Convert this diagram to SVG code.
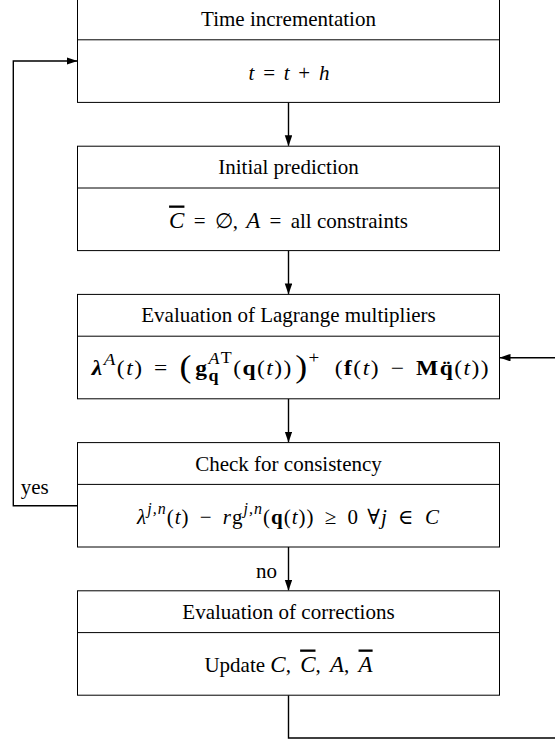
<svg xmlns="http://www.w3.org/2000/svg" width="555" height="742" viewBox="0 0 555 742">
<style>
.box{fill:#fff;stroke:#000;stroke-width:1}
.div{stroke:#000;stroke-width:1}
.t{font-family:"Liberation Serif","DejaVu Serif",serif;font-size:21px;fill:#000;text-anchor:middle}
.l{font-family:"Liberation Serif","DejaVu Serif",serif;font-size:21px;fill:#000}
.i{font-style:italic}
.b{font-weight:bold}
.bi{font-weight:bold;font-style:italic}
.conn path{fill:none;stroke:#000;stroke-width:1.4}
</style>
<defs>
<marker id="ah" markerUnits="userSpaceOnUse" markerWidth="11" markerHeight="8" refX="10.5" refY="3.75" orient="auto">
<path d="M0,0 L11,3.75 L0,7.5 z" fill="#000"/>
</marker>
</defs>
<rect width="555" height="742" fill="#fff"/>
<g class="conn">
<path d="M288.5,102.4 V145.7" marker-end="url(#ah)"/>
<path d="M288.5,250.6 V293.9" marker-end="url(#ah)"/>
<path d="M288.5,398.8 V442.1" marker-end="url(#ah)"/>
<path d="M288.5,547 V590.3" marker-end="url(#ah)"/>
<path d="M288.5,695.2 V738 H558 V357.7 H500" marker-end="url(#ah)"/>
<path d="M77.5,505.7 H13.3 V61 H77" marker-end="url(#ah)"/>
</g>
<g id="n1">
<rect class="box" x="77.5" y="-2" width="422" height="104.4"/>
<line class="div" x1="77.5" y1="39.8" x2="499.5" y2="39.8"/>
<text class="t" x="288.5" y="26">Time incrementation</text>
<text class="t" x="289.5" y="79.5" font-size="24" letter-spacing="1"><tspan class="i">t</tspan><tspan dx="1.5"> = </tspan><tspan class="i" dx="1.5">t</tspan><tspan dx="1.5"> + </tspan><tspan class="i" dx="1.5">h</tspan></text>
</g>
<g id="n2">
<rect class="box" x="77.5" y="146.2" width="422" height="104.4"/>
<line class="div" x1="77.5" y1="188" x2="499.5" y2="188"/>
<text class="t" x="288.5" y="174">Initial prediction</text>
<text class="t" x="288.5" y="227.5"><tspan class="i" font-size="23" text-decoration="overline">C</tspan><tspan dx="4"> = </tspan><tspan dx="4">∅, </tspan><tspan class="i" font-size="23" dx="3">A</tspan><tspan dx="4"> = </tspan><tspan dx="4">all constraints</tspan></text>
</g>
<g id="n3">
<rect class="box" x="77.5" y="294.4" width="422" height="104.4"/>
<line class="div" x1="77.5" y1="336.2" x2="499.5" y2="336.2"/>
<text class="t" x="288.5" y="322.3">Evaluation of Lagrange multipliers</text>
<text class="t" x="291" y="375.5" font-size="25" letter-spacing="1.3" transform="matrix(1.12,0,0,1,-34.92,0)"><tspan class="bi">λ</tspan><tspan class="i" font-size="17" dy="-10">A</tspan><tspan dy="10">(</tspan><tspan class="i">t</tspan>)<tspan dx="3"> = </tspan><tspan font-size="32" dy="2" dx="3">(</tspan><tspan class="b" dy="-2" dx="2">g</tspan><tspan class="b" font-size="16" dy="5.5">q</tspan><tspan class="i" font-size="16" dx="-10.2" dy="-17">A</tspan><tspan font-size="16" dy="-1">T</tspan><tspan dy="12.5">(</tspan><tspan class="b">q</tspan>(<tspan class="i">t</tspan>))<tspan font-size="32" dy="2" dx="2">)</tspan><tspan font-size="17" dy="-14">+</tspan><tspan dy="12" dx="6"> (</tspan><tspan class="b">f</tspan>(<tspan class="i">t</tspan>)<tspan dx="3"> − </tspan><tspan class="b" dx="3">M</tspan><tspan class="b">q̈</tspan>(<tspan class="i">t</tspan>))</text>
</g>
<g id="n4">
<rect class="box" x="77.5" y="442.6" width="422" height="104.4"/>
<line class="div" x1="77.5" y1="484.4" x2="499.5" y2="484.4"/>
<text class="t" x="288.5" y="470.5">Check for consistency</text>
<text class="t" x="288.5" y="523.5" font-size="24" letter-spacing="1"><tspan class="i">λ</tspan><tspan class="i" font-size="16" dy="-9.5">j,n</tspan><tspan dy="9.5">(</tspan><tspan class="i">t</tspan>)<tspan dx="4"> − </tspan><tspan class="i" dx="4">r</tspan>g<tspan class="i" font-size="16" dy="-9.5">j,n</tspan><tspan dy="9.5">(</tspan><tspan class="b">q</tspan>(<tspan class="i">t</tspan>))<tspan dx="4"> ≥ </tspan><tspan dx="4">0 </tspan><tspan dx="2">∀</tspan><tspan class="i">j</tspan><tspan dx="4"> ∈ </tspan><tspan class="i" dx="4">C</tspan></text>
</g>
<g id="n5">
<rect class="box" x="77.5" y="590.8" width="422" height="104.4"/>
<line class="div" x1="77.5" y1="632.6" x2="499.5" y2="632.6"/>
<text class="t" x="288.5" y="618.7">Evaluation of corrections</text>
<text class="t" x="288.5" y="671.5">Update <tspan class="i" font-size="23">C</tspan>, <tspan class="i" font-size="23" dx="4" text-decoration="overline">C</tspan>, <tspan class="i" font-size="23" dx="4">A</tspan>, <tspan class="i" font-size="23" dx="4" text-decoration="overline">A</tspan></text>
</g>
<g id="labels">
<text class="l" x="20.7" y="494">yes</text>
<text class="l" x="277" y="578" text-anchor="end">no</text>
</g>
</svg>
